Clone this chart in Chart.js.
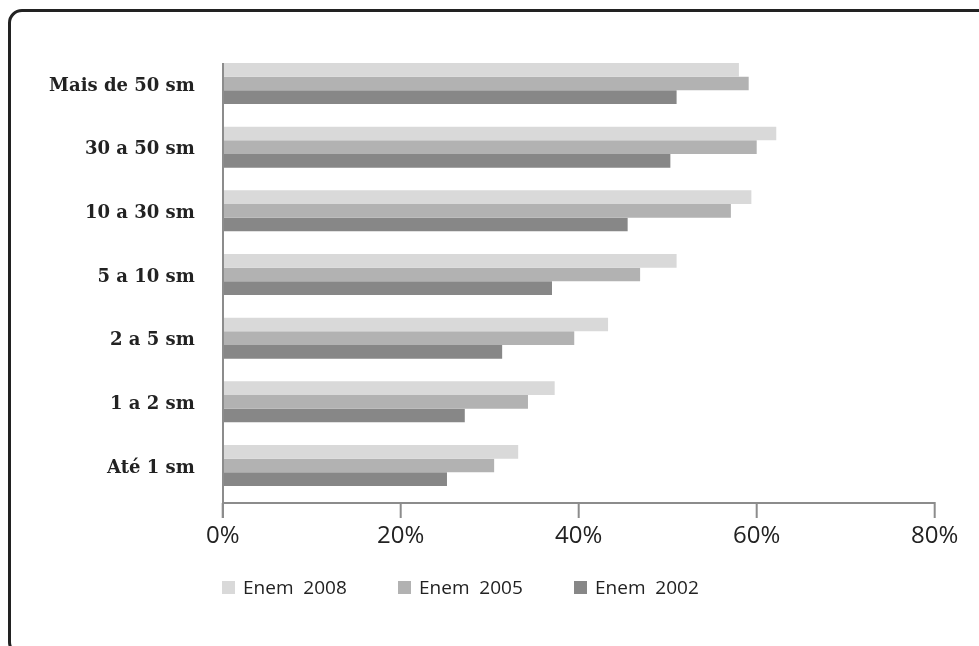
<!DOCTYPE html>
<html>
<head>
<meta charset="utf-8">
<script src="https://cdn.jsdelivr.net/npm/chart.js@4.4.1/dist/chart.umd.min.js"></script>
<style>
  html, body { margin: 0; padding: 0; background: #fff; }
  #wrap { position: relative; width: 979px; height: 646px; overflow: hidden; }
  #frame { position: absolute; left: 8px; top: 9px; width: 1000px; height: 647px; box-sizing: border-box; border: 3px solid #222; border-radius: 14px; }
  #chart { position: absolute; left: 0; top: 0; }
  #legend { position: absolute; left: 222px; top: 578px; display: flex; font-family: "Open Sans", sans-serif; font-size: 19px; line-height: 19px; color: #222; }
  #legend .item { width: 176px; display: flex; align-items: center; white-space: pre; }
  #legend .box { width: 13px; height: 13px; margin-right: 8px; }
</style>
</head>
<body>
<div id="wrap">
  <div id="frame"></div>
  <canvas id="chart" width="979" height="646"></canvas>
  <div id="legend"></div>
</div>
<script>
// faixas de renda (salários mínimos)
const categories = ['Mais de 50 sm', '30 a 50 sm', '10 a 30 sm', '5 a 10 sm', '2 a 5 sm', '1 a 2 sm', 'Até 1 sm'];
const seriesNames = ['Enem  2008', 'Enem  2005', 'Enem  2002'];

// percentuais
const enem2008 = [58.0, 62.2, 59.4, 51.0, 43.3, 37.3, 33.2];
const enem2005 = [59.1, 60.0, 57.1, 46.9, 39.5, 34.3, 30.5];
const enem2002 = [51.0, 50.3, 45.5, 37.0, 31.4, 27.2, 25.2];

const xMin = 0;
const xMax = 80;
const xStep = 20;

// linhas dos eixos no estilo do original (um pouco deslocadas da área do gráfico)
const axisLines = {
  id: 'axisLines',
  afterDatasetsDraw(chart) {
    const { ctx, chartArea: a, scales: { x } } = chart;
    const base = a.bottom + 5.7;
    ctx.save();
    ctx.strokeStyle = '#8c8c8c';
    ctx.lineWidth = 2;
    ctx.beginPath();
    ctx.moveTo(a.left + 0.3, a.top + 11.3);
    ctx.lineTo(a.left + 0.3, base + 15);
    ctx.moveTo(a.left, base);
    ctx.lineTo(a.right + 1, base);
    x.ticks.forEach(t => {
      const px = x.getPixelForValue(t.value);
      ctx.moveTo(px, base);
      ctx.lineTo(px, base + 15);
    });
    ctx.stroke();
    ctx.restore();
  }
};

const chart = new Chart(document.getElementById('chart'), {
  type: 'bar',
  data: {
    labels: categories,
    datasets: [
      { label: seriesNames[0], data: enem2008, backgroundColor: '#d9d9d9' },
      { label: seriesNames[1], data: enem2005, backgroundColor: '#b2b2b2' },
      { label: seriesNames[2], data: enem2002, backgroundColor: '#878787' }
    ]
  },
  options: {
    indexAxis: 'y',
    responsive: false,
    animation: false,
    datasets: {
      bar: { barPercentage: 1, categoryPercentage: 0.644, borderWidth: 0 }
    },
    layout: { padding: { top: 51.7, right: 0, left: 0, bottom: 0 } },
    plugins: {
      legend: { display: false },
      tooltip: { enabled: false }
    },
    scales: {
      x: {
        min: xMin,
        max: xMax,
        grid: { display: false, drawTicks: false },
        border: { display: false },
        ticks: {
          stepSize: xStep,
          padding: 24,
          color: '#222',
          font: { family: 'Open Sans', size: 24 },
          callback: v => v + '%'
        },
        afterFit: s => {
          s.height = 148.7;
          s.paddingLeft = 0;
          s.paddingRight = 44.3;
        }
      },
      y: {
        grid: { display: false, drawTicks: false },
        border: { display: false },
        ticks: {
          padding: 28,
          labelOffset: 2.5,
          color: '#222',
          font: { family: 'DejaVu Serif', size: 18, weight: 'bold' }
        },
        afterFit: s => { s.width = 222.7; }
      }
    }
  },
  plugins: [axisLines]
});

// legenda em HTML
const legendEl = document.getElementById('legend');
chart.data.datasets.forEach(ds => {
  const item = document.createElement('div');
  item.className = 'item';
  const box = document.createElement('span');
  box.className = 'box';
  box.style.background = ds.backgroundColor;
  const txt = document.createElement('span');
  txt.textContent = ds.label;
  item.appendChild(box);
  item.appendChild(txt);
  legendEl.appendChild(item);
});
</script>
</body>
</html>
